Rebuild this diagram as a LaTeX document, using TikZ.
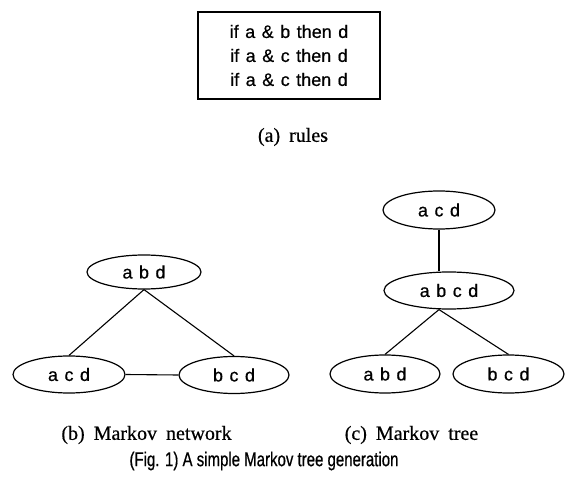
\documentclass[tikz,border=0pt]{standalone}
\usepackage{fontspec}
\setmainfont{Liberation Serif}[FakeBold=0.5]
\newfontfamily\rulefont{Liberation Sans}[FakeBold=0.6]
\newfontfamily\capfont{Liberation Sans}[FakeStretch=0.75,FakeBold=0.6]
\usetikzlibrary{shapes.geometric}
\newcommand\myrulesfont{\rulefont\fontsize{18}{24}\selectfont\spaceskip=6.5pt plus 1pt minus 1pt\relax}
\newcommand\mysubfont{\fontsize{20}{24}\selectfont\spaceskip=9pt plus 1pt minus 1pt\relax}
\tikzset{
  ell/.style={draw, ellipse, inner sep=0pt, line width=1.2pt, font=\myrulesfont},
  link/.style={line width=1.1pt},
  subcap/.style={font=\mysubfont, inner sep=0pt},
}
\begin{document}
\begin{tikzpicture}[x=1pt,y=-1pt]
\useasboundingbox (0,0) rectangle (568,484);
% rules box
\node[draw, line width=1.1pt, minimum width=182pt, minimum height=87pt, align=center,
  font=\myrulesfont] (rules) at (289,55.5)
  {if a \& b then d\\ if a \& c then d\\ if a \& c then d};
\node[subcap] (capa) at (293,137) {(a) rules};
% Markov network
\node[ell, minimum width=114pt, minimum height=34pt] (abd1) at (144,272) {a b d};
\node[ell, minimum width=112pt, minimum height=37pt] (acd1) at (69,374.5) {a c d};
\node[ell, minimum width=110pt, minimum height=37pt] (bcd1) at (234,375) {b c d};
\draw[link] (abd1.south) -- (acd1.north);
\draw[link] (abd1.south) -- (bcd1.north);
\draw[link] (acd1.east) -- (bcd1.west);
% Markov tree
\node[ell, minimum width=112pt, minimum height=38pt] (acd2) at (439,210) {a c d};
\node[ell, minimum width=130pt, minimum height=37pt] (abcd) at (449,290.5) {a b c d};
\node[ell, minimum width=110pt, minimum height=38pt] (abd2) at (385,374) {a b d};
\node[ell, minimum width=111pt, minimum height=38pt] (bcd2) at (508.5,374) {b c d};
\draw[link] (acd2.south) -- (acd2.south |- abcd.north);
\draw[link] (acd2.south |- abcd.south) -- (abd2.north);
\draw[link] (acd2.south |- abcd.south) -- (bcd2.north);
% captions
\node[subcap] (capb) at (146.5,435) {(b) Markov network};
\node[subcap] (capc) at (411.5,435) {(c) Markov tree};
\node[font=\capfont\fontsize{20}{24}\selectfont, inner sep=0pt] (fig) at (264,461)
  {(Fig. 1) A simple Markov tree generation};
\end{tikzpicture}
\end{document}
